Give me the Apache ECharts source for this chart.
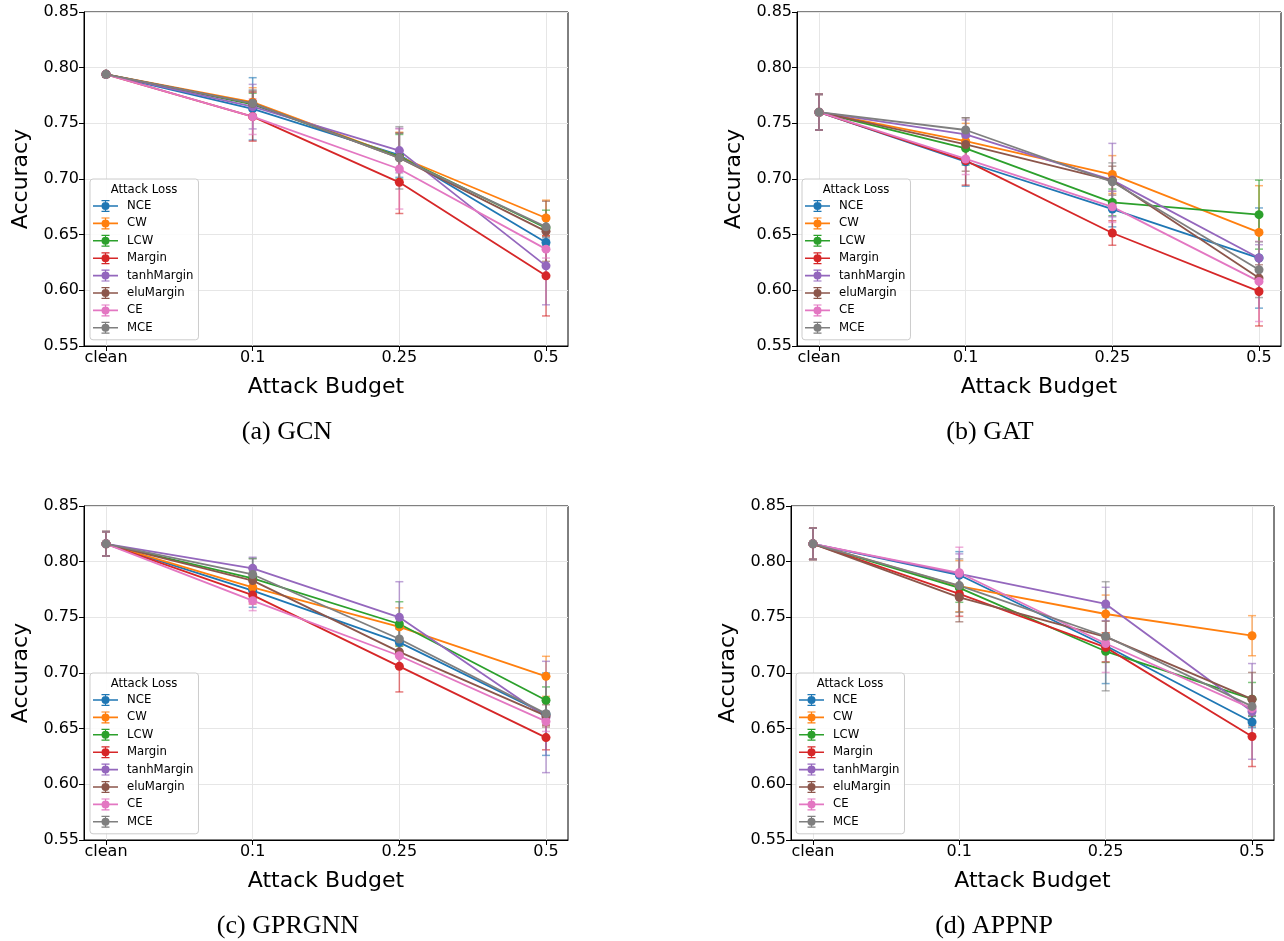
<!DOCTYPE html>
<html>
<head>
<meta charset="utf-8">
<script src="https://cdn.jsdelivr.net/npm/echarts@6/dist/echarts.min.js"></script>
<style>
  html, body { margin: 0; padding: 0; background: #fff; }
  #main { width: 1284px; height: 941px; }
</style>
</head>
<body>
<div id="main"></div>
<script>
// x ticks (attack budget) and the eight attack losses
var budgets = ['clean', '0.1', '0.25', '0.5'];
var lossNames = ['NCE', 'CW', 'LCW', 'Margin', 'tanhMargin', 'eluMargin', 'CE', 'MCE'];
var lossColors = ['#1f77b4', '#ff7f0e', '#2ca02c', '#d62728', '#9467bd', '#8c564b', '#e377c2', '#7f7f7f'];
var captions = ['(a) GCN', '(b) GAT', '(c) GPRGNN', '(d) APPNP'];

// mean accuracy, one row per loss (same order as lossNames), one column per budget
var gcnMean = [
  [0.794, 0.763, 0.7215, 0.643],
  [0.794, 0.769, 0.720, 0.665],
  [0.794, 0.767, 0.720, 0.656],
  [0.794, 0.756, 0.697, 0.613],
  [0.794, 0.765, 0.7255, 0.622],
  [0.794, 0.768, 0.719, 0.653],
  [0.794, 0.756, 0.709, 0.637],
  [0.794, 0.768, 0.719, 0.657]
];
var gcnStd = [
  [0.002, 0.028, 0.020, 0.005],
  [0.002, 0.013, 0.022, 0.016],
  [0.002, 0.010, 0.020, 0.016],
  [0.002, 0.022, 0.028, 0.036],
  [0.002, 0.020, 0.020, 0.035],
  [0.002, 0.011, 0.022, 0.027],
  [0.002, 0.016, 0.036, 0.008],
  [0.002, 0.012, 0.028, 0.010]
];
var gatMean = [
  [0.760, 0.7155, 0.673, 0.629],
  [0.760, 0.734, 0.704, 0.652],
  [0.760, 0.7275, 0.679, 0.668],
  [0.760, 0.7165, 0.6515, 0.599],
  [0.760, 0.740, 0.699, 0.629],
  [0.760, 0.731, 0.6985, 0.611],
  [0.760, 0.718, 0.675, 0.608],
  [0.760, 0.744, 0.6975, 0.6185]
];
var gatStd = [
  [0.016, 0.022, 0.016, 0.045],
  [0.016, 0.016, 0.017, 0.042],
  [0.016, 0.015, 0.012, 0.031],
  [0.016, 0.022, 0.011, 0.031],
  [0.016, 0.013, 0.033, 0.012],
  [0.016, 0.024, 0.013, 0.012],
  [0.016, 0.014, 0.014, 0.036],
  [0.016, 0.011, 0.017, 0.025]
];
var gprMean = [
  [0.816, 0.774, 0.7275, 0.663],
  [0.816, 0.777, 0.7415, 0.697],
  [0.816, 0.785, 0.744, 0.6755],
  [0.816, 0.770, 0.706, 0.642],
  [0.816, 0.794, 0.750, 0.6605],
  [0.816, 0.783, 0.719, 0.6615],
  [0.816, 0.765, 0.7155, 0.6565],
  [0.816, 0.7885, 0.7305, 0.6635]
];
var gprStd = [
  [0.011, 0.015, 0.012, 0.037],
  [0.011, 0.010, 0.017, 0.018],
  [0.011, 0.018, 0.020, 0.012],
  [0.011, 0.008, 0.023, 0.011],
  [0.011, 0.010, 0.032, 0.050],
  [0.011, 0.012, 0.012, 0.010],
  [0.011, 0.009, 0.010, 0.009],
  [0.011, 0.014, 0.012, 0.010]
];
var appnpMean = [
  [0.816, 0.788, 0.7245, 0.656],
  [0.816, 0.778, 0.753, 0.7335],
  [0.816, 0.7765, 0.7195, 0.6765],
  [0.816, 0.771, 0.723, 0.643],
  [0.816, 0.789, 0.762, 0.6655],
  [0.816, 0.768, 0.7325, 0.6765],
  [0.816, 0.790, 0.7265, 0.668],
  [0.816, 0.7785, 0.733, 0.670]
];
var appnpStd = [
  [0.014, 0.021, 0.034, 0.005],
  [0.014, 0.023, 0.017, 0.018],
  [0.014, 0.013, 0.010, 0.015],
  [0.014, 0.020, 0.013, 0.027],
  [0.014, 0.018, 0.015, 0.043],
  [0.014, 0.022, 0.014, 0.024],
  [0.014, 0.023, 0.026, 0.006],
  [0.014, 0.024, 0.049, 0.008]
];

var panels = [
  { mean: gcnMean, std: gcnStd, left: 84, top: 12, width: 484, cap: 287, legendLeft: 90 },
  { mean: gatMean, std: gatStd, left: 797, top: 12, width: 484, cap: 990, legendLeft: 802 },
  { mean: gprMean, std: gprStd, left: 84, top: 506, width: 484, cap: 288, legendLeft: 90 },
  { mean: appnpMean, std: appnpStd, left: 791, top: 506, width: 483, cap: 994, legendLeft: 796 }
];

var FONT = 'DejaVu Sans';
// legend icon: line + marker + error bar with caps (25 x 12 box)
var legendIcon = 'path://M0,5.2h25v1.6h-25Z' +
  'M8.5,6a4,4 0 1,1 8,0a4,4 0 1,1 -8,0Z' +
  'M11.9,0h1.2v12h-1.2Z' +
  'M8.5,0h8v1.2h-8Z' +
  'M8.5,10.8h8v1.2h-8Z';

var grids = [], xAxes = [], yAxes = [], series = [], legends = [], titles = [];

panels.forEach(function (p, pi) {
  grids.push({
    left: p.left, top: p.top, width: p.width, height: 334,
    show: true, borderColor: '#000', borderWidth: 1, backgroundColor: 'transparent'
  });
  xAxes.push({
    type: 'value', gridIndex: pi, min: -0.15, max: 3.15,
    name: 'Attack Budget', nameLocation: 'middle', nameGap: 30,
    nameTextStyle: { fontFamily: FONT, fontSize: 22, color: '#000' },
    axisLine: { show: true, onZero: false, lineStyle: { color: '#000', width: 1 } },
    axisTick: { show: true, length: 5, lineStyle: { color: '#000' }, customValues: [0, 1, 2, 3] },
    axisLabel: {
      customValues: [0, 1, 2, 3], margin: 4,
      fontFamily: FONT, fontSize: 16, color: '#000',
      formatter: function (v) { return budgets[Math.round(v)]; }
    },
    splitLine: { show: true, lineStyle: { color: '#e6e6e6', width: 1 } }
  });
  yAxes.push({
    type: 'value', gridIndex: pi, min: 0.55, max: 0.85, interval: 0.05,
    name: 'Accuracy', nameLocation: 'middle', nameGap: 52,
    nameTextStyle: { fontFamily: FONT, fontSize: 22, color: '#000' },
    axisLine: { show: true, onZero: false, lineStyle: { color: '#000', width: 1 } },
    axisTick: { show: true, length: 5, lineStyle: { color: '#000' } },
    axisLabel: {
      margin: 5, fontFamily: FONT, fontSize: 16, color: '#000',
      formatter: function (v) { return v.toFixed(2); }
    },
    splitLine: { show: true, lineStyle: { color: '#e6e6e6', width: 1 } }
  });

  lossNames.forEach(function (name, li) {
    var color = lossColors[li];
    series.push({
      type: 'line', name: name, xAxisIndex: pi, yAxisIndex: pi,
      data: p.mean[li].map(function (v, k) { return [k, v]; }),
      symbol: 'circle', symbolSize: 9, showSymbol: true,
      lineStyle: { color: color, width: 1.8 },
      itemStyle: { color: color },
      emphasis: { disabled: true },
      z: 3
    });
    series.push({
      type: 'custom', name: name, xAxisIndex: pi, yAxisIndex: pi,
      data: p.mean[li].map(function (v, k) { return [k, v, p.std[li][k]]; }),
      encode: { x: 0, y: 1 },
      itemStyle: { color: color },
      z: 2,
      renderItem: function (params, api) {
        var x = api.value(0), y = api.value(1), e = api.value(2);
        var hi = api.coord([x, y + e]);
        var lo = api.coord([x, y - e]);
        var w = 4;
        var st = { stroke: color, lineWidth: 1.5, opacity: 0.6 };
        return {
          type: 'group',
          children: [
            { type: 'line', shape: { x1: hi[0], y1: hi[1], x2: lo[0], y2: lo[1] }, style: st },
            { type: 'line', shape: { x1: hi[0] - w, y1: hi[1], x2: hi[0] + w, y2: hi[1] }, style: st },
            { type: 'line', shape: { x1: lo[0] - w, y1: lo[1], x2: lo[0] + w, y2: lo[1] }, style: st }
          ]
        };
      }
    });
  });

  legends.push({
    data: lossNames.map(function (n) { return { name: n, icon: legendIcon }; }),
    orient: 'vertical', left: p.legendLeft, top: p.top + 167,
    itemWidth: 25, itemHeight: 12, itemGap: 5.4,
    padding: [21, 5, 6, 3],
    backgroundColor: 'rgba(255,255,255,0.85)',
    borderColor: '#cccccc', borderWidth: 1, borderRadius: 3,
    textStyle: { fontFamily: FONT, fontSize: 11.7, color: '#000', padding: [0, 0, 0, 4] },
    selectedMode: true
  });
  titles.push({
    text: 'Attack Loss', left: p.legendLeft + 54, top: p.top + 172, textAlign: 'center', padding: 0,
    textStyle: { fontFamily: FONT, fontSize: 11.7, fontWeight: 'normal', color: '#000' }
  });
  titles.push({
    text: captions[pi], left: p.cap, top: p.top + 407, textAlign: 'center', padding: 0,
    textStyle: { fontFamily: 'Liberation Serif', fontSize: 26, fontWeight: 'normal', color: '#000' }
  });
});

var chart = echarts.init(document.getElementById('main'), null, { renderer: 'canvas' });
chart.setOption({
  backgroundColor: '#ffffff',
  animation: false,
  title: titles,
  legend: legends,
  grid: grids,
  xAxis: xAxes,
  yAxis: yAxes,
  series: series
});
</script>
</body>
</html>
